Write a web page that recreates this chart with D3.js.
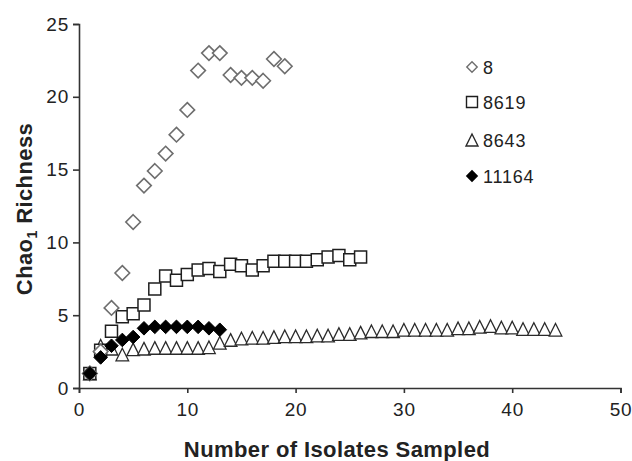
<!DOCTYPE html>
<html>
<head>
<meta charset="utf-8">
<script src="https://cdn.jsdelivr.net/npm/d3@7/dist/d3.min.js"></script>
<style>
  body { margin: 0; background: #fff; }
  svg { display: block; font-family: "Liberation Sans", Arial, sans-serif; }
  .tick text { fill: #222; }
  .axis path, .axis line { stroke: #333; }
</style>
</head>
<body>
<div id="vis"></div>
<script>
// isolates sampled (x) and Chao1 richness (y) per strain
var series8 = [1.0, 2.5, 5.5, 7.9, 11.4, 13.9, 14.9, 16.1, 17.4, 19.1, 21.8, 23.0, 23.0, 21.5, 21.3, 21.3, 21.1, 22.6, 22.1];
var series8619 = [1.0, 2.6, 3.9, 4.9, 5.1, 5.7, 6.8, 7.7, 7.4, 7.8, 8.1, 8.2, 8.0, 8.5, 8.4, 8.1, 8.4, 8.7, 8.7, 8.7,
                  8.7, 8.8, 9.0, 9.1, 8.8, 9.0];
var series8643 = [1.0, 2.9, 2.7, 2.3, 2.65, 2.7, 2.75, 2.75, 2.75, 2.75, 2.75, 2.8, 3.1, 3.3, 3.4, 3.45, 3.45, 3.5, 3.55, 3.55,
                  3.55, 3.6, 3.6, 3.7, 3.7, 3.8, 3.9, 3.9, 3.9, 4.0, 4.0, 4.0, 4.0, 4.0, 4.1, 4.1, 4.2, 4.25, 4.15, 4.15,
                  4.05, 4.05, 4.05, 4.0];
var series11164 = [1.0, 2.1, 2.9, 3.3, 3.5, 4.1, 4.2, 4.2, 4.2, 4.2, 4.2, 4.1, 4.0];
var legendNames = ['8', '8619', '8643', '11164'];
var xTicks = [0, 10, 20, 30, 40, 50];
var yTicks = [0, 5, 10, 15, 20, 25];

var W = 632, H = 461;
var svg = d3.select('#vis').append('svg').attr('width', W).attr('height', H);

var xScale = d3.scaleLinear().domain([0, 50]).range([79, 620.5]);
var yScale = d3.scaleLinear().domain([0, 25]).range([388, 24]);

/* ****** marker shapes ****** */
var diamond = function(r) {
    return 'M0,' + (-r) + 'L' + r + ',0L0,' + r + 'L' + (-r) + ',0Z';
};
var square = function(r) {
    return 'M' + (-r) + ',' + (-r) + 'H' + r + 'V' + r + 'H' + (-r) + 'Z';
};
var triangle = function(r) {
    return 'M0,' + (-r) + 'L' + r + ',' + r + 'H' + (-r) + 'Z';
};

var styles = {
    '8': {path: diamond(7.3), fill: '#fff', stroke: '#6e6e6e', sw: 1.6, lpath: diamond(5.2)},
    '8619': {path: square(6), fill: '#fff', stroke: '#1e1e1e', sw: 1.5, lpath: square(5.5)},
    '8643': {path: triangle(6.3), fill: '#fff', stroke: '#2a2a2a', sw: 1.3, lpath: triangle(6)},
    '11164': {path: diamond(6.8), fill: '#000', stroke: '#000', sw: 1, lpath: diamond(5.2)}
};

var toPoints = function(vals) {
    return vals.map(function(v, i) { return {x: i + 1, y: v}; });
};
var allSeries = {'8': series8, '8619': series8619, '8643': series8643, '11164': series11164};

/* ****** axes ****** */
var xAxis = d3.axisBottom(xScale).tickValues(xTicks).tickSize(5).tickPadding(10).tickSizeOuter(5);
var yAxis = d3.axisLeft(yScale).tickValues(yTicks).tickSize(6).tickPadding(4).tickSizeOuter(6);

svg.append('g')
    .attr('class', 'axis')
    .attr('transform', 'translate(0,' + yScale(0) + ')')
    .call(xAxis)
    .call(function(g) { g.selectAll('path, line').attr('stroke-width', 1.6); })
    .selectAll('text').attr('font-size', 19).attr('letter-spacing', 0.8);

svg.append('g')
    .attr('class', 'axis')
    .attr('transform', 'translate(' + xScale(0) + ',0)')
    .call(yAxis)
    .call(function(g) { g.selectAll('path, line').attr('stroke-width', 1.6); })
    .selectAll('text').attr('font-size', 19).attr('letter-spacing', 0.8);

/* ****** markers, drawn back to front ****** */
['8643', '8619', '8', '11164'].forEach(function(name) {
    var st = styles[name];
    svg.append('g').selectAll('path')
        .data(toPoints(allSeries[name]))
        .enter()
        .append('path')
        .attr('d', st.path)
        .attr('transform', function(d) { return 'translate(' + xScale(d.x) + ',' + yScale(d.y) + ')'; })
        .attr('fill', st.fill)
        .attr('stroke', st.stroke)
        .attr('stroke-width', st.sw);
});

/* ****** legend ****** */
var legend = svg.append('g').attr('transform', 'translate(472,67)');
var rows = legend.selectAll('g').data(legendNames).enter().append('g')
    .attr('transform', function(d, i) { return 'translate(0,' + [0, 35, 73, 109][i] + ')'; });
rows.append('path')
    .attr('d', function(d) { return styles[d].lpath; })
    .attr('fill', function(d) { return styles[d].fill; })
    .attr('stroke', function(d) { return styles[d].stroke; })
    .attr('stroke-width', 1.4);
rows.append('text')
    .attr('x', 11)
    .attr('y', 6.5)
    .attr('font-size', 18)
    .attr('letter-spacing', 0.8)
    .attr('fill', '#222')
    .text(function(d) { return d; });

/* ****** titles ****** */
svg.append('text')
    .attr('x', 337)
    .attr('y', 457)
    .attr('text-anchor', 'middle')
    .attr('font-size', 22)
    .attr('font-weight', 'bold')
    .attr('letter-spacing', 0.4)
    .attr('fill', '#222')
    .text('Number of Isolates Sampled');

var yTitle = svg.append('text')
    .attr('transform', 'translate(32,209) rotate(-90)')
    .attr('text-anchor', 'middle')
    .attr('font-size', 22)
    .attr('font-weight', 'bold')
    .attr('letter-spacing', 0.4)
    .attr('fill', '#222');
yTitle.append('tspan').text('Chao');
yTitle.append('tspan').attr('font-size', 14).attr('dy', 5).text('1');
yTitle.append('tspan').attr('dy', -5).text(' Richness');
</script>
</body>
</html>
